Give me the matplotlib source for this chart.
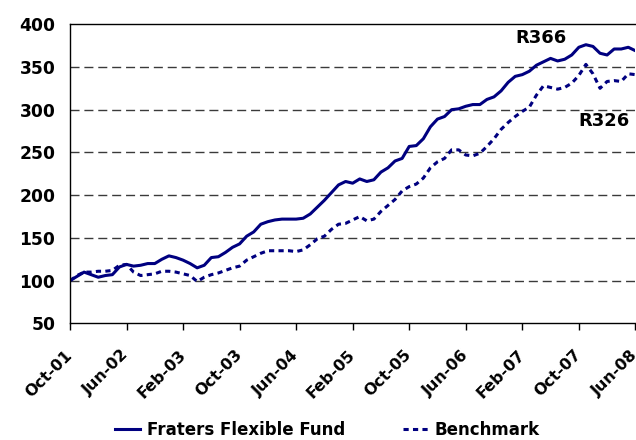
import matplotlib
matplotlib.use("Agg")
import matplotlib.pyplot as plt
import matplotlib.transforms as mtransforms
import numpy as np

# monthly index values, Oct-01 .. Jun-08
fund = [100, 105, 110, 107, 104, 106, 107, 116, 119, 117,
        118, 120, 120, 125, 129, 127, 124, 120, 115, 118,
        127, 128, 133, 139, 143, 152, 157, 166, 169, 171,
        172, 172, 172, 173, 178, 186, 194, 203, 212, 216,
        214, 219, 216, 218, 227, 232, 240, 243, 257, 258,
        266, 280, 289, 292, 300, 301, 304, 306, 306, 312,
        315, 322, 332, 339, 341, 345, 352, 356, 360, 357,
        359, 364, 373, 376, 374, 366, 364, 371, 371, 373,
        369]
benchmark = [100, 106, 110, 110, 111, 111, 112, 118, 119, 110,
             106, 107, 108, 111, 111, 110, 108, 106, 99, 104,
             107, 109, 112, 115, 117, 124, 128, 132, 135, 135,
             135, 135, 134, 136, 142, 149, 152, 160, 166, 167,
             171, 175, 170, 172, 181, 188, 195, 205, 210, 213,
             220, 232, 239, 243, 253, 253, 247, 246, 249, 257,
             266, 277, 285, 292, 298, 303, 317, 328, 326, 324,
             326, 331, 340, 353, 342, 325, 333, 334, 333, 342,
             341]
tick_labels = ["Oct-01", "Jun-02", "Feb-03", "Oct-03", "Jun-04", "Feb-05",
               "Oct-05", "Jun-06", "Feb-07", "Oct-07", "Jun-08"]
end_labels = ["R366", "R326"]

navy = "#000080"
months = np.arange(len(fund))

fig = plt.figure(figsize=(6.36, 4.40), dpi=100)
ax = fig.add_axes([0.110, 0.265, 0.889, 0.680])

ax.plot(months, fund, color=navy, lw=2.2, label="Fraters Flexible Fund")
ax.plot(months, benchmark, color=navy, lw=2.2, dashes=(1.7, 1.4), label="Benchmark")

ax.set_xlim(0, 80)
ax.set_ylim(50, 400)
ax.set_yticks(range(50, 401, 50))
ax.set_xticks(range(0, 81, 8))
ax.set_xticklabels(tick_labels)

for v in range(100, 400, 50):
    ax.axhline(v, color="#3a3a3a", lw=1.0, dashes=(6.5, 3.5), zorder=0)

for lbl in ax.get_yticklabels():
    lbl.set_fontweight("bold")
    lbl.set_fontsize(12.3)

shift = mtransforms.ScaledTranslation(-15 / 100, 0, fig.dpi_scale_trans)
for lbl in ax.get_xticklabels():
    lbl.set_fontweight("bold")
    lbl.set_fontsize(11.4)
    lbl.set_rotation(45)
    lbl.set_ha("right")
    lbl.set_va("center")
    lbl.set_rotation_mode("anchor")
    lbl.set_transform(lbl.get_transform() + shift)

ax.tick_params(axis="y", length=0, pad=10.5)
ax.tick_params(axis="x", length=5, width=1, direction="out", pad=16)
ax.spines["right"].set_visible(False)
for s in ["left", "bottom", "top"]:
    ax.spines[s].set_linewidth(1.0)

ax.text(66.7, 383.5, end_labels[0], fontsize=13, fontweight="bold", ha="center", va="center")
ax.text(75.6, 286.5, end_labels[1], fontsize=13, fontweight="bold", ha="center", va="center")

fig.legend(loc="center", bbox_to_anchor=(0.515, 0.022), ncol=2, frameon=False,
           prop={"weight": "bold", "size": 12}, handlelength=1.5, columnspacing=3.5,
           handletextpad=0.4)

fig.savefig("out.png", dpi=100)
